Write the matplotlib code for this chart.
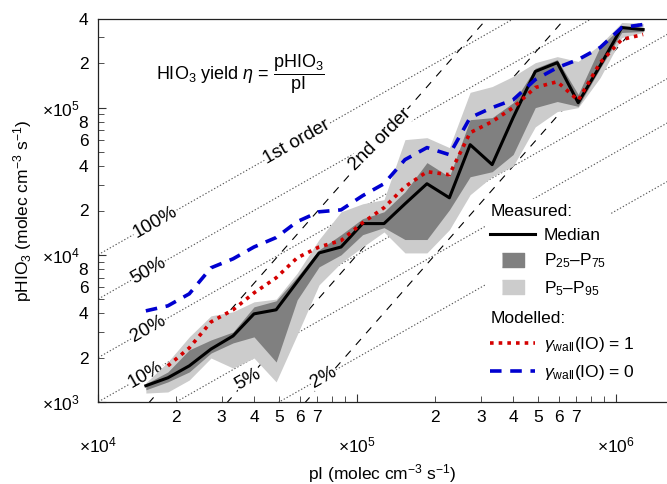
import numpy as np
import matplotlib
matplotlib.use('Agg')
import matplotlib.pyplot as plt
from matplotlib.lines import Line2D
from matplotlib.ticker import FixedLocator, FixedFormatter

plt.rcParams['font.family'] = ['Liberation Sans', 'DejaVu Sans']
plt.rcParams['mathtext.fontset'] = 'custom'
plt.rcParams['mathtext.rm'] = 'Liberation Sans'
plt.rcParams['mathtext.it'] = 'Liberation Sans:italic'
plt.rcParams['mathtext.bf'] = 'Liberation Sans:bold'

# binned iodine production rate (x) and HIO3 production rate statistics
pI = [1.53e4, 1.86e4, 2.25e4, 2.73e4, 3.32e4, 4.00e4, 4.87e4, 5.87e4, 7.13e4, 8.67e4,
      1.05e5, 1.27e5, 1.53e5, 1.86e5, 2.27e5, 2.73e5, 3.32e5, 4.00e5, 4.87e5, 5.92e5,
      7.13e5, 8.67e5, 1.05e6, 1.27e6]
median = [1.29e3, 1.46e3, 1.76e3, 2.29e3, 2.81e3, 3.97e3, 4.23e3, 6.55e3, 1.03e4, 1.13e4,
          1.63e4, 1.63e4, 2.22e4, 3.04e4, 2.44e4, 5.60e4, 4.10e4, 8.55e4, 1.76e5, 2.02e5,
          1.08e5, 1.93e5, 3.50e5, 3.39e5]
p25 = [1.21e3, 1.37e3, 1.60e3, 2.15e3, 2.52e3, 2.77e3, 1.87e3, 4.94e3, 8.28e3, 1.00e4,
       1.37e4, 1.53e4, 1.27e4, 1.27e4, 2.02e4, 3.39e4, 3.67e4, 4.80e4, 1.00e5, 1.10e5,
       1.02e5, 1.85e5, 3.24e5, 3.29e5]
p75 = [1.33e3, 1.60e3, 2.26e3, 2.64e3, 2.99e3, 4.43e3, 4.87e3, 7.08e3, 1.08e4, 1.37e4,
       1.76e4, 1.96e4, 2.68e4, 4.23e4, 3.39e4, 8.28e4, 8.55e4, 1.08e5, 1.85e5, 2.12e5,
       1.23e5, 2.60e5, 3.56e5, 3.50e5]
p5 = [1.15e3, 1.17e3, 1.41e3, 1.99e3, 1.70e3, 1.99e3, 1.37e3, 2.86e3, 6.25e3, 8.82e3,
      1.13e4, 1.43e4, 1.03e4, 1.03e4, 1.48e4, 2.56e4, 3.40e4, 4.00e4, 7.40e4, 9.40e4,
      1.00e5, 1.60e5, 2.99e5, 3.24e5]
p95 = [1.35e3, 1.87e3, 2.77e3, 3.85e3, 4.10e3, 4.79e3, 5.00e3, 7.50e3, 1.27e4, 1.96e4,
       2.22e4, 2.37e4, 6.06e4, 6.25e4, 5.35e4, 1.27e5, 1.39e5, 1.63e5, 2.02e5, 2.22e5,
       2.06e5, 2.68e5, 3.79e5, 3.73e5]
model_g1 = [np.nan, 1.76e3, 2.33e3, 3.50e3, 4.23e3, 5.51e3, 6.98e3, 9.54e3, 1.13e4, 1.25e4,
            1.65e4, 2.09e4, 2.90e4, 3.67e4, 3.50e4, 6.76e4, 8.03e4, 1.00e5, 1.37e5, 1.50e5,
            1.12e5, 2.02e5, 2.90e5, 3.14e5]
model_g0 = [4.16e3, 4.50e3, 5.43e3, 8.16e3, 9.39e3, 1.13e4, 1.31e4, 1.68e4, 1.96e4, 2.02e4,
            2.52e4, 3.04e4, 4.43e4, 5.35e4, 4.79e4, 8.55e4, 1.00e5, 1.13e5, 1.55e5, 1.87e5,
            2.12e5, 2.56e5, 3.50e5, 3.67e5]

# reference lines
yields = [1.0, 0.5, 0.2, 0.1, 0.05, 0.02]
yield_labels = ['100%', '50%', '20%', '10%', '5%', '2%']
yield_label_x = [1.66e4, 1.56e4, 1.56e4, 1.53e4, 3.8e4, 7.4e4]
yield_label_y = [1.66e4, 7.8e3, 3.12e3, 1.53e3, 1.42e3, 1.48e3]
second_order_k = [4e-6, 1e-6, 2.5e-7]

fig = plt.figure(figsize=(6.67, 4.84), dpi=100)
ax = fig.add_axes([98 / 667, 82 / 484, 569 / 667, 383 / 484])
ax.set_xscale('log')
ax.set_yscale('log')
ax.set_xlim(1e4, 1.57e6)
ax.set_ylim(1e3, 4e5)

xr = np.logspace(3.9, 6.3, 100)
for eta in yields:
    ax.plot(xr, eta * xr, color='#555555', lw=0.8, ls=(0, (1.2, 1.8)), zorder=1)
for k in second_order_k:
    ax.plot(xr, k * xr ** 2, color='black', lw=0.8, ls=(0, (7, 7)), zorder=1)

lab_kw = dict(ha='center', va='center', fontsize=13.5, zorder=2,
              bbox=dict(facecolor='white', edgecolor='none', pad=0.5))
for lab, lx, ly in zip(yield_labels, yield_label_x, yield_label_y):
    ax.text(lx, ly, lab, rotation=29.6, **lab_kw)
ax.text(5.87e4, 5.87e4, '1st order', rotation=29.6, **lab_kw)
ax.text(1.23e5, 4e-6 * 1.23e5 ** 2, '2nd order', rotation=45, **lab_kw)

ax.text(0.25, 0.855, r'HIO$_3$ yield $\eta$ = $\dfrac{\mathrm{pHIO_3}}{\mathrm{pI}}$',
        transform=ax.transAxes, ha='center', va='center', fontsize=13)

# measured and modelled
ax.fill_between(pI, p5, p95, color='#cccccc', lw=0, zorder=3)
ax.fill_between(pI, p25, p75, color='#808080', lw=0, zorder=4)
ax.plot(pI, median, color='black', lw=2.2, zorder=5)
ax.plot(pI, model_g1, color='#d40000', lw=2.6, ls=(0, (1.0, 1.4)), zorder=6)
ax.plot(pI, model_g0, color='#0000d0', lw=2.6, ls=(0, (3.2, 2.4)), zorder=6)

# ticks
x_major = [1e4, 1e5, 1e6]
x_minor = [m * 10.0 ** e for e in (4, 5) for m in range(2, 10)]
x_minor_lab = [str(m) if m <= 7 else '' for e in (4, 5) for m in range(2, 10)]
y_major = [1e3, 1e4, 1e5]
y_minor = [m * 10.0 ** e for e in (3, 4, 5) for m in range(2, 10) if m * 10.0 ** e <= 4e5]
y_minor_lab = [str(m) if m % 2 == 0 else '' for e in (3, 4, 5) for m in range(2, 10)
               if m * 10.0 ** e <= 4e5]

ax.xaxis.set_major_locator(FixedLocator(x_major))
ax.xaxis.set_major_formatter(FixedFormatter([r'$\times10^{%d}$' % e for e in (4, 5, 6)]))
ax.xaxis.set_minor_locator(FixedLocator(x_minor))
ax.xaxis.set_minor_formatter(FixedFormatter(x_minor_lab))
ax.yaxis.set_major_locator(FixedLocator(y_major))
ax.yaxis.set_major_formatter(FixedFormatter([r'$\times10^{%d}$' % e for e in (3, 4, 5)]))
ax.yaxis.set_minor_locator(FixedLocator(y_minor))
ax.yaxis.set_minor_formatter(FixedFormatter(y_minor_lab))

ax.tick_params(which='both', direction='in', labelsize=12.5, color='#333333')
ax.tick_params(which='major', length=6)
ax.tick_params(which='minor', length=4)
ax.tick_params(axis='x', which='minor', pad=6)
ax.tick_params(axis='x', which='major', pad=24)
ax.tick_params(axis='y', which='minor', pad=7)
ax.tick_params(axis='y', which='major', pad=13)

ax.spines['right'].set_visible(False)
for s in ('left', 'top', 'bottom'):
    ax.spines[s].set_color('#222222')
    ax.spines[s].set_linewidth(0.9)

ax.set_xlabel(r'pI (molec cm$^{-3}$ s$^{-1}$)', fontsize=12.5, labelpad=5)
ax.set_ylabel(r'pHIO$_3$ (molec cm$^{-3}$ s$^{-1}$)', fontsize=12.5, labelpad=6)

# legends
rect = [(-1.7, -1), (1.7, -1), (1.7, 1), (-1.7, 1)]
leg_kw = dict(loc='upper left', frameon=True, framealpha=1, edgecolor='none',
              facecolor='white', fontsize=12.5, title_fontsize=12.5, alignment='left',
              handlelength=2.6, handletextpad=0.5, labelspacing=0.5, borderpad=0.3,
              borderaxespad=0)
h1 = [Line2D([], [], color='black', lw=2.2),
      Line2D([], [], marker=rect, ls='none', ms=16, color='#808080'),
      Line2D([], [], marker=rect, ls='none', ms=16, color='#cccccc')]
leg1 = ax.legend(h1, ['Median', r'P$_{25}$–P$_{75}$', r'P$_5$–P$_{95}$'],
                 title='Measured:', bbox_to_anchor=(0.68, 0.53), **leg_kw)
leg1.set_zorder(10)
ax.add_artist(leg1)
h2 = [Line2D([], [], color='#d40000', lw=2.6, ls=(0, (1.0, 1.4))),
      Line2D([], [], color='#0000d0', lw=2.6, ls=(0, (3.2, 2.4)))]
leg2 = ax.legend(h2, [r'$\gamma_{\mathrm{wall}}$(IO) = 1', r'$\gamma_{\mathrm{wall}}$(IO) = 0'],
                 title='Modelled:', bbox_to_anchor=(0.68, 0.25), **leg_kw)
leg2.set_zorder(10)

fig.savefig('out.png', dpi=100)
